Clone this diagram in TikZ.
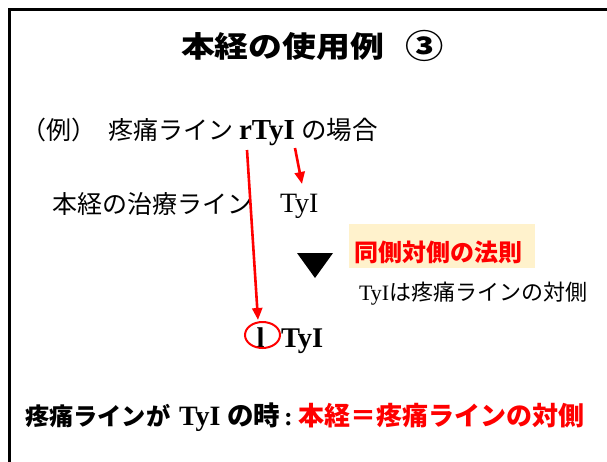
\documentclass[tikz,border=0pt]{standalone}
\usepackage{fontspec}
\setmainfont{Liberation Serif}
\newfontfamily\jp{Noto Sans CJK JP}
\newfontfamily\jpwide{Noto Sans CJK JP}[FakeStretch=1.16]
\usetikzlibrary{arrows.meta,shapes.geometric}
\definecolor{boxfill}{RGB}{255,242,204}
\definecolor{pred}{RGB}{255,0,0}
\tikzset{
  txt/.style={inner sep=0pt, outer sep=0pt, anchor=base west},
  redarrow/.style={draw=pred, line width=2.6pt, -{Triangle[length=12pt,width=10pt]}},
}
\begin{document}
\begin{tikzpicture}[x=1pt,y=-1pt]
\useasboundingbox (0,0) rectangle (607,461);
% frame
\draw[line width=3pt] (9,470) -- (9,9) -- (620,9);
% title
\node[txt, font=\jpwide\bfseries\fontsize{29.2}{30}\selectfont] (title) at (181,57) {本経の使用例};
\node[txt, font=\jpwide\bfseries\fontsize{33}{34}\selectfont] (num) at (405,58) {③};
% example line
\node[txt, font=\jp\fontsize{25}{26}\selectfont] (exa) at (21,139) {（例）};
\node[txt, font=\jp\fontsize{25}{26}\selectfont] (exb) at (108,139) {疼痛ライン};
\node[txt, font=\bfseries\fontsize{29}{30}\selectfont] (rtyi) at (239,139) {rTyI};
\node[txt, font=\jp\fontsize{25.5}{26}\selectfont] (exc) at (301,139) {の場合};
% treatment line
\node[txt, font=\jp\fontsize{25}{26}\selectfont] (treat) at (52,213) {本経の治療ライン};
\node[txt, font=\fontsize{28}{29}\selectfont] (tyione) at (280,212) {TyI};
% triangle
\fill (297,253) -- (333,253) -- (315,278) -- cycle;
% rule box
\node[inner sep=0pt, fill=boxfill, anchor=north west, minimum width=186pt, minimum height=44pt] (rulebox) at (349,224) {};
\node[txt, text=pred, font=\jp\bfseries\fontsize{24}{25}\selectfont] (rule) at (354,261) {同側対側の法則};
\node[txt, font=\fontsize{22}{23}\selectfont] (note) at (359,300) {TyI{\jp は疼痛ラインの対側}};
% result
\node[inner sep=0pt, anchor=base, font=\bfseries\fontsize{28.5}{30}\selectfont] (ell) at (260.5,347) {l};
\node[txt, font=\bfseries\fontsize{28.5}{30}\selectfont] (tyitwo) at (281,347) {TyI};
\node[draw=pred, line width=2pt, ellipse, minimum width=35pt, minimum height=26pt, inner sep=0pt] (circ) at (262.5,335) {};
% arrows
\coordinate (longs) at (247,150);
\coordinate (longe) at (258,320);
\coordinate (shorts) at (295,148);
\coordinate (shorte) at (302,184);
\draw[redarrow] (longs) -- (longe);
\draw[redarrow] (shorts) -- (shorte);
% conclusion
\node[txt, font=\jp\bfseries\fontsize{24.2}{26}\selectfont] (cona) at (25,425) {疼痛ラインが};
\node[txt, font=\bfseries\fontsize{28}{29}\selectfont] (conb) at (179,425) {TyI};
\node[txt, font=\jp\bfseries\fontsize{26.5}{27}\selectfont] (conc) at (227,425) {の時};
\node[txt, font=\bfseries\fontsize{26}{27}\selectfont] (cond) at (284,425) {:};
\node[txt, text=pred, font=\jp\bfseries\fontsize{26}{27}\selectfont] (cone) at (298,425) {本経＝疼痛ラインの対側};
\end{tikzpicture}
\end{document}
